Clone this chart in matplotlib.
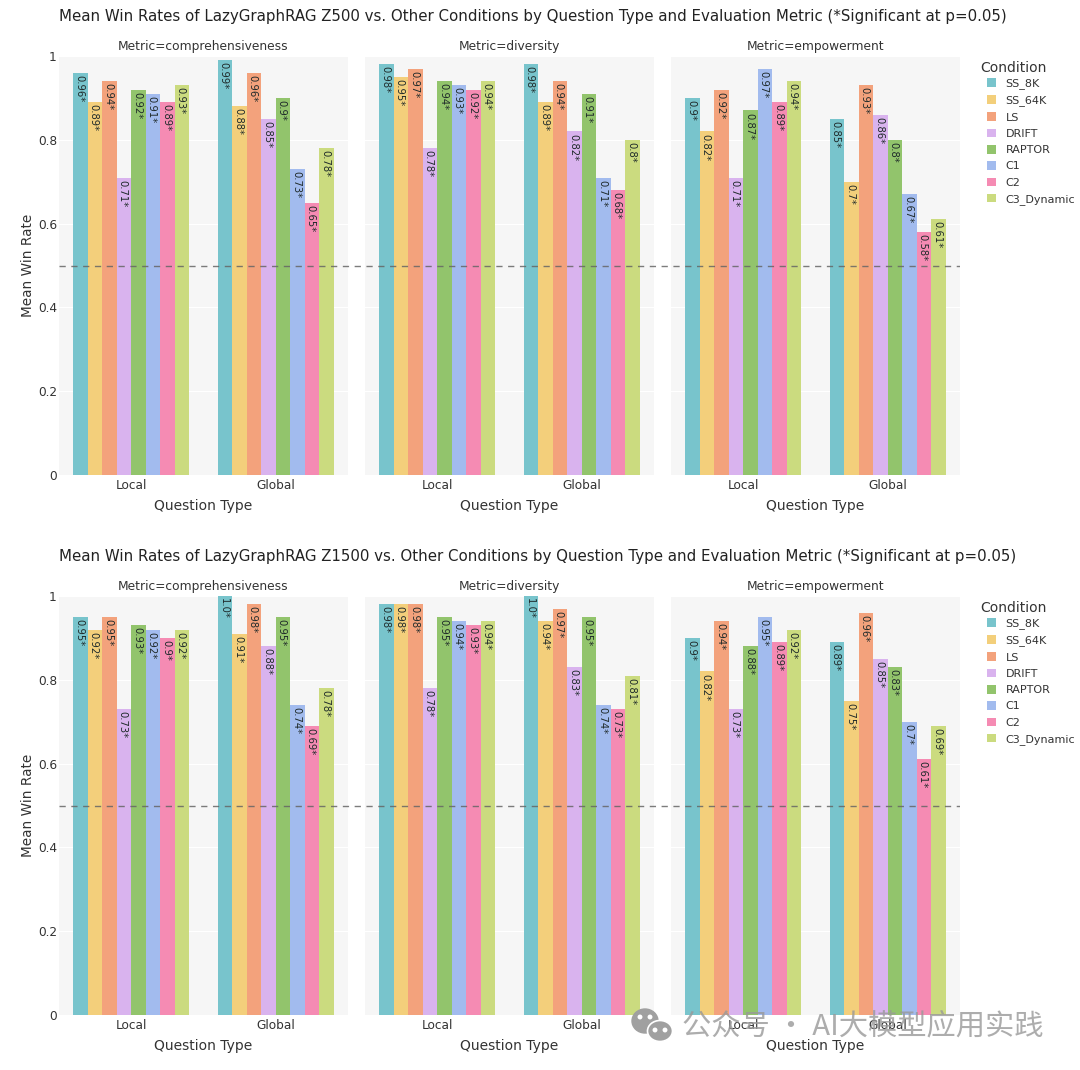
import matplotlib
matplotlib.use("Agg")
import matplotlib.pyplot as plt
from matplotlib.patches import Ellipse, Patch

W, H = 1080, 1070

conditions = ["SS_8K", "SS_64K", "LS", "DRIFT", "RAPTOR", "C1", "C2", "C3_Dynamic"]
colors = ["#78C4CC", "#F3CF7B", "#F3A27C", "#D9B3EE", "#92C46C", "#A2BBEE", "#F58BB3", "#CBDB7F"]
metrics = ["comprehensiveness", "diversity", "empowerment"]
question_types = ["Local", "Global"]
yticks = [0, 0.2, 0.4, 0.6, 0.8, 1]
ytick_labels = ["0", "0.2", "0.4", "0.6", "0.8", "1"]

# Z500, per metric: local then global
z500_comp = [[.96, .89, .94, .71, .92, .91, .89, .93], [.99, .88, .96, .85, .9, .73, .65, .78]]
z500_div = [[.98, .95, .97, .78, .94, .93, .92, .94], [.98, .89, .94, .82, .91, .71, .68, .8]]
z500_emp = [[.9, .82, .92, .71, .87, .97, .89, .94], [.85, .7, .93, .86, .8, .67, .58, .61]]

# Z1500
z1500_comp = [[.95, .92, .95, .73, .93, .92, .9, .92], [1.0, .91, .98, .88, .95, .74, .69, .78]]
z1500_div = [[.98, .98, .98, .78, .95, .94, .93, .94], [1.0, .94, .97, .83, .95, .74, .73, .81]]
z1500_emp = [[.9, .82, .94, .73, .88, .95, .89, .92], [.89, .75, .96, .85, .83, .7, .61, .69]]

title_z500 = "Mean Win Rates of LazyGraphRAG Z500 vs. Other Conditions by Question Type and Evaluation Metric (*Significant at p=0.05)"
title_z1500 = "Mean Win Rates of LazyGraphRAG Z1500 vs. Other Conditions by Question Type and Evaluation Metric (*Significant at p=0.05)"
watermark = "公众号 · AI大模型应用实践"

TEXT = "#333333"
PANEL_LEFT = [59, 365, 671]
PANEL_W = 289


def px_axes(fig, left, top, width, height, **kwargs):
    return fig.add_axes([left / W, 1 - (top + height) / H, width / W, height / H], **kwargs)


def plot_row(fig, top, title, rows):
    height = 419
    fig.text(59 / W, 1 - (top - 39) / H, title, fontsize=10.8, color="#222222", va="center", ha="left")
    for p, (metric, data) in enumerate(zip(metrics, rows)):
        ax = px_axes(fig, PANEL_LEFT[p], top, PANEL_W, height)
        ax.set_facecolor("#F6F6F6")
        for g, vals in enumerate(data):
            for i, v in enumerate(vals):
                x = g + (i - 3.5) * 0.1
                ax.bar(x, v, width=0.1, color=colors[i], linewidth=0, zorder=2)
                ax.annotate(f"{v}*", (x, v), xytext=(-1, -1.5), textcoords="offset points",
                            rotation=270, ha="center", va="top", fontsize=7.2, color="#1f2a2a", zorder=3)
        ax.set_xlim(-0.5, 1.5)
        ax.set_ylim(0, 1)
        ax.set_yticks(yticks)
        ax.set_xticks([0, 1])
        ax.set_xticklabels(question_types)
        ax.grid(axis="y", color="white", linewidth=0.8, zorder=1)
        ax.set_axisbelow(True)
        ax.tick_params(length=0, labelsize=8.7, labelcolor=TEXT, pad=3)
        for s in ax.spines.values():
            s.set_visible(False)
        if p == 0:
            ax.set_yticklabels(ytick_labels)
            ax.tick_params(axis="y", pad=1.5)
            ax.set_ylabel("Mean Win Rate", fontsize=9.8, color=TEXT, labelpad=2)
        else:
            ax.tick_params(labelleft=False)
        ax.set_xlabel("Question Type", fontsize=10, color=TEXT, labelpad=5)
        ax.set_title(f"Metric={metric}", fontsize=8.8, color=TEXT, pad=4)

    # the 0.5 reference line runs across all three panels
    over = px_axes(fig, 59, top, 901, height)
    over.patch.set_alpha(0)
    over.axis("off")
    over.set_ylim(0, 1)
    over.axhline(0.5, color="#666666", linewidth=1.0, dashes=(4.5, 4), alpha=0.85, zorder=5)

    fig.text(980 / W, 1 - (top + 12) / H, "Condition", fontsize=10, color=TEXT, va="center", ha="left")
    handles = [Patch(facecolor=c, edgecolor="none", label=n) for c, n in zip(colors, conditions)]
    leg = fig.legend(handles=handles, loc="upper left",
                     bbox_to_anchor=(987 / W, 1 - (top + 22) / H), frameon=False, fontsize=8,
                     handlelength=0.82, handleheight=0.82, handletextpad=0.85,
                     labelspacing=0.55, borderpad=0, borderaxespad=0)
    for t in leg.get_texts():
        t.set_color(TEXT)


fig = plt.figure(figsize=(W / 100, H / 100), dpi=100, facecolor="white")
plot_row(fig, 56, title_z500, [z500_comp, z500_div, z500_emp])
plot_row(fig, 596, title_z1500, [z1500_comp, z1500_div, z1500_emp])

# watermark in the lower right corner
mark = fig.add_axes([0, 0, 1, 1], zorder=10)
mark.patch.set_alpha(0)
mark.axis("off")
mark.set_xlim(0, W)
mark.set_ylim(H, 0)
grey = "#a0a0a0"
mark.add_patch(Ellipse((645, 1021), 26, 24, color=grey))
mark.add_patch(Ellipse((660, 1031), 25, 21, color=grey, ec="white", lw=1.2))
for ex, ey in [(640, 1017), (650, 1017), (655, 1030), (665, 1030)]:
    mark.add_patch(Ellipse((ex, ey), 3.5, 3.5, color="white"))
mark.text(682, 1026, watermark, fontsize=21.1, color="#999999", alpha=0.8, ha="left", va="center",
          family=["Noto Sans CJK SC", "DejaVu Sans"])

fig.savefig("out.png", dpi=100)
